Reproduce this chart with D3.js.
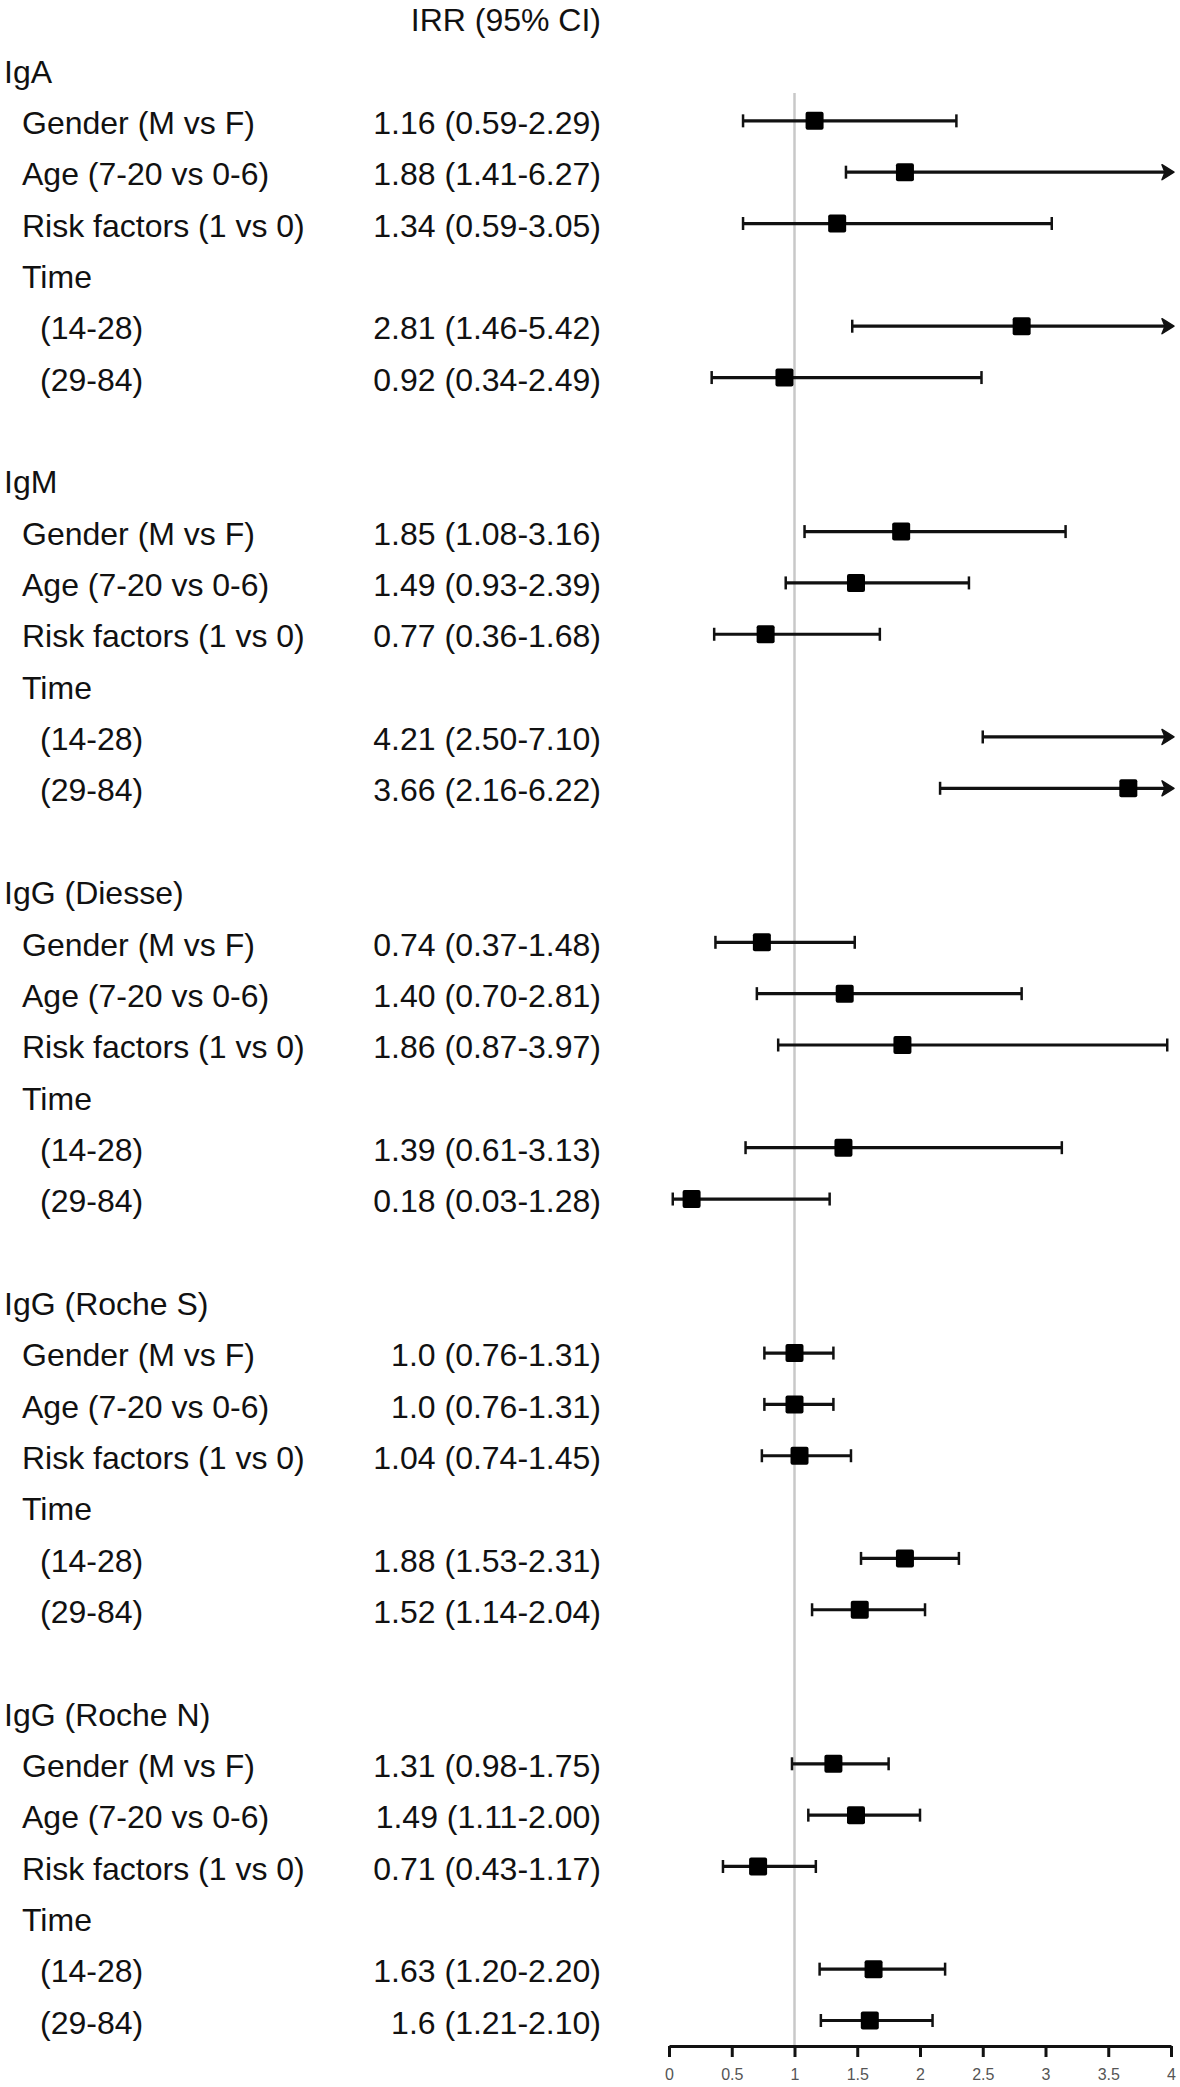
<!DOCTYPE html>
<html>
<head>
<meta charset="utf-8">
<script src="https://cdn.jsdelivr.net/npm/d3@7"></script>
<style>
  html, body { margin: 0; padding: 0; background: #fff; }
  svg { display: block; }
  text { font-family: "Liberation Sans", Arial, sans-serif; }
</style>
</head>
<body>
<svg id="chart" width="1180" height="2087"></svg>
<script>
// ---- data ----
const groups = ["IgA", "IgM", "IgG (Diesse)", "IgG (Roche S)", "IgG (Roche N)"];
const rowLabels = ["Gender (M vs F)", "Age (7-20 vs 0-6)", "Risk factors (1 vs 0)", "Time", "(14-28)", "(29-84)"];
const estimates = [
  [1.16, 1.88, 1.34, null, 2.81, 0.92],
  [1.85, 1.49, 0.77, null, 4.21, 3.66],
  [0.74, 1.40, 1.86, null, 1.39, 0.18],
  [1.0, 1.0, 1.04, null, 1.88, 1.52],
  [1.31, 1.49, 0.71, null, 1.63, 1.6]
];
const lowers = [
  [0.59, 1.41, 0.59, null, 1.46, 0.34],
  [1.08, 0.93, 0.36, null, 2.50, 2.16],
  [0.37, 0.70, 0.87, null, 0.61, 0.03],
  [0.76, 0.76, 0.74, null, 1.53, 1.14],
  [0.98, 1.11, 0.43, null, 1.20, 1.21]
];
const uppers = [
  [2.29, 6.27, 3.05, null, 5.42, 2.49],
  [3.16, 2.39, 1.68, null, 7.10, 6.22],
  [1.48, 2.81, 3.97, null, 3.13, 1.28],
  [1.31, 1.31, 1.45, null, 2.31, 2.04],
  [1.75, 2.00, 1.17, null, 2.20, 2.10]
];
const ciTexts = [
  ["1.16 (0.59-2.29)", "1.88 (1.41-6.27)", "1.34 (0.59-3.05)", "", "2.81 (1.46-5.42)", "0.92 (0.34-2.49)"],
  ["1.85 (1.08-3.16)", "1.49 (0.93-2.39)", "0.77 (0.36-1.68)", "", "4.21 (2.50-7.10)", "3.66 (2.16-6.22)"],
  ["0.74 (0.37-1.48)", "1.40 (0.70-2.81)", "1.86 (0.87-3.97)", "", "1.39 (0.61-3.13)", "0.18 (0.03-1.28)"],
  ["1.0 (0.76-1.31)", "1.0 (0.76-1.31)", "1.04 (0.74-1.45)", "", "1.88 (1.53-2.31)", "1.52 (1.14-2.04)"],
  ["1.31 (0.98-1.75)", "1.49 (1.11-2.00)", "0.71 (0.43-1.17)", "", "1.63 (1.20-2.20)", "1.6 (1.21-2.10)"]
];
const tickValues = [0, 0.5, 1, 1.5, 2, 2.5, 3, 3.5, 4];
const headerText = "IRR (95% CI)";

// ---- layout ----
const svg = d3.select("#chart");
const xMax = 4;
const x = d3.scaleLinear().domain([0, xMax]).range([669, 1171]);
const rowsPerGroup = 8;
const y = d3.scaleLinear().domain([0, 38]).range([71.5, 2022.5]);
const axisY = 2046;
const valueRight = 601;
const fontSize = 32;
const ink = "#111";

// build rows
const rows = [];
groups.forEach((g, gi) => {
  const base = gi * rowsPerGroup;
  rows.push({ type: "group", label: g, idx: base });
  rowLabels.forEach((lab, ri) => {
    rows.push({
      type: ri >= 4 ? "sub" : "item",
      label: lab,
      idx: base + 1 + ri,
      est: estimates[gi][ri],
      lo: lowers[gi][ri],
      hi: uppers[gi][ri],
      txt: ciTexts[gi][ri]
    });
  });
});

// header
svg.append("text")
  .attr("x", valueRight).attr("y", 20)
  .attr("dy", "0.35em")
  .attr("text-anchor", "end")
  .attr("font-size", fontSize)
  .attr("fill", ink)
  .text(headerText);

// reference line at 1
svg.append("line")
  .attr("x1", x(1)).attr("x2", x(1))
  .attr("y1", 93).attr("y2", axisY)
  .attr("stroke", "#c8c8c8").attr("stroke-width", 2.5);

// labels
svg.selectAll("text.lab").data(rows).join("text")
  .attr("class", "lab")
  .attr("x", d => d.type === "group" ? 4 : d.type === "item" ? 22 : 40)
  .attr("y", d => y(d.idx))
  .attr("dy", "0.35em")
  .attr("font-size", fontSize)
  .attr("fill", ink)
  .text(d => d.label);

// values text
svg.selectAll("text.val").data(rows.filter(d => d.txt)).join("text")
  .attr("class", "val")
  .attr("x", valueRight)
  .attr("y", d => y(d.idx))
  .attr("dy", "0.35em")
  .attr("text-anchor", "end")
  .attr("font-size", fontSize)
  .attr("fill", ink)
  .text(d => d.txt);

// error bars
const bars = rows.filter(d => d.lo != null);
const g = svg.append("g");
const capH = 6.5;
bars.forEach(d => {
  const yy = y(d.idx) - 2;
  const x0 = x(d.lo);
  const over = d.hi > xMax;
  const x1 = over ? x(xMax) - 4 : x(d.hi);
  g.append("line")
    .attr("x1", x0).attr("x2", x1).attr("y1", yy).attr("y2", yy)
    .attr("stroke", ink).attr("stroke-width", 3.2);
  g.append("line")
    .attr("x1", x0).attr("x2", x0).attr("y1", yy - capH).attr("y2", yy + capH)
    .attr("stroke", ink).attr("stroke-width", 2.5);
  if (over) {
    const tip = x(xMax) + 3;
    g.append("path")
      .attr("d", `M${tip},${yy} L${tip - 12},${yy - 7.5} L${tip - 9},${yy} L${tip - 12},${yy + 7.5} Z`)
      .attr("fill", ink).attr("stroke", ink).attr("stroke-width", 1.5)
      .attr("stroke-linejoin", "round");
  } else {
    g.append("line")
      .attr("x1", x1).attr("x2", x1).attr("y1", yy - capH).attr("y2", yy + capH)
      .attr("stroke", ink).attr("stroke-width", 2.5);
  }
  if (d.est <= xMax) {
    const s = 18;
    g.append("rect")
      .attr("x", x(d.est) - s / 2).attr("y", yy - s / 2)
      .attr("width", s).attr("height", s)
      .attr("rx", 2)
      .attr("fill", "#000");
  }
});

// axis
const axis = d3.axisBottom(x)
  .tickValues(tickValues)
  .tickSize(11)
  .tickSizeOuter(0)
  .tickPadding(12)
  .tickFormat(d3.format("~g"));
const ax = svg.append("g")
  .attr("transform", `translate(0,${axisY})`)
  .call(axis);
ax.select(".domain").attr("stroke", ink).attr("stroke-width", 3);
ax.selectAll(".tick line").attr("stroke", ink).attr("stroke-width", 3);
ax.selectAll(".tick text")
  .attr("font-size", 16)
  .attr("font-family", "Liberation Sans, Arial, sans-serif")
  .attr("fill", "#555");
</script>
</body>
</html>
